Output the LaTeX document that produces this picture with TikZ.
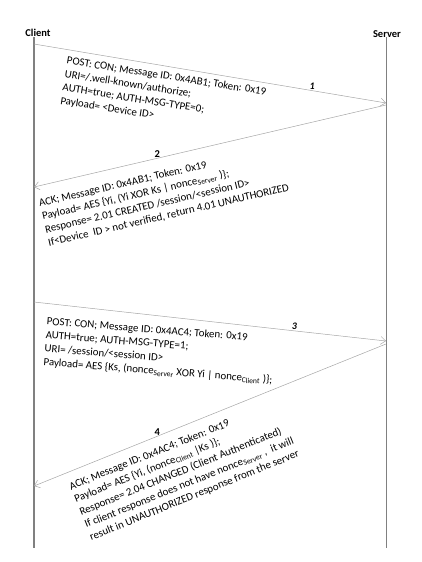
\documentclass[tikz,border=0pt]{standalone}
\usepackage{fontspec}
\setmainfont{Carlito}
\usetikzlibrary{arrows.meta}
\tikzstyle{actor} = [font=\bfseries\fontsize{10.5}{12}\selectfont, inner sep=0pt]
\tikzstyle{life} = [draw=black!50, line width=1.2pt]
\tikzstyle{msg} = [draw=black!35, line width=0.5pt, -{Straight Barb[length=5pt,width=8pt]}]
\tikzstyle{txt} = [font=\fontsize{10.9}{13.6}\selectfont, align=left, anchor=north west, inner sep=0pt]
\tikzstyle{num} = [font=\bfseries\fontsize{10.5}{12}\selectfont, above, inner sep=1pt]
\newcommand{\nsub}[1]{\textsubscript{#1}}

\begin{document}
\begin{tikzpicture}[x=1pt,y=-1pt]
  \useasboundingbox (0,0) rectangle (422,562);
  \node[actor] (client) at (38,33) {Client};
  \node[actor] (server) at (387,34) {Server};
  \coordinate (ctop) at (34,37);
  \coordinate (cbot) at (34,548);
  \coordinate (stop) at (386.5,37);
  \coordinate (sbot) at (386.5,548);
  \draw[life] (ctop) -- (cbot);
  \draw[life] (stop) -- (sbot);
  \coordinate (c1) at (34,44);
  \coordinate (s1) at (386,103);
  \coordinate (s2) at (386,105);
  \coordinate (c2) at (34,187);
  \coordinate (c3) at (34,302);
  \coordinate (s3) at (386,341);
  \coordinate (s4) at (386,344);
  \coordinate (c4) at (34,486);
  \draw[msg] (c1) -- node[num, pos=0.79, font=\bfseries\itshape] {1} (s1);
  \draw[msg] (s2) -- node[num, pos=0.65] {2} (c2);
  \draw[msg] (c3) -- node[num, pos=0.74, font=\bfseries\itshape] {3} (s3);
  \draw[msg] (s4) -- node[num, pos=0.65] {4} (c4);
  \node[txt, rotate=-9] (m1) at (67.5,56) {POST: CON; Message ID: 0x4AB1; Token: 0x19\\
    URI=/.well-known/authorize;\\
    AUTH=true; AUTH-MSG-TYPE=0;\\
    Payload= <Device ID>};
  \node[txt, rotate=13] (m2) at (38,199) {ACK; Message ID: 0x4AB1; Token: 0x19\\
    Payload= AES \{Yi, (Yi XOR Ks | nonce\nsub{Server} )\};\\
    Response= 2.01 CREATED /session/<session ID>\\
    If<Device~~ID > not verified, return 4.01 UNAUTHORIZED};
  \node[txt, rotate=-4.5] (m3) at (47,317) {POST: CON; Message ID: 0x4AC4; Token: 0x19\\
    AUTH=true; AUTH-MSG-TYPE=1;\\
    URI= /session/<session ID>\\
    Payload= AES \{Ks, (nonce\nsub{Server} XOR Yi | nonce\nsub{Client} )\};};
  \node[txt, rotate=22] (m4) at (68,483) {ACK; Message ID: 0x4AC4; Token: 0x19\\
    Payload= AES \{Yi, (nonce\nsub{Client} |Ks )\};\\
    Response= 2.04 CHANGED (Client Authenticated)\\
    If client response does not have nonce\nsub{Server} ,~~it will\\
    result in UNAUTHORIZED response from the server};
\end{tikzpicture}
\end{document}
